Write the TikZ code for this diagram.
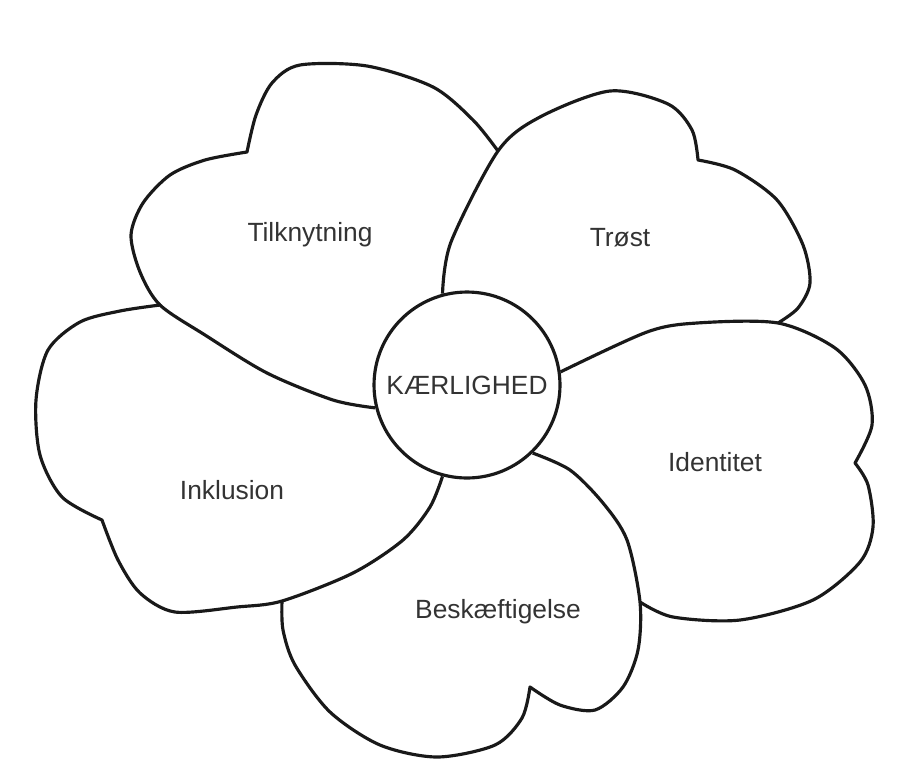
\documentclass[tikz,border=0pt]{standalone}
\usepackage{fontspec}
\setmainfont{Liberation Sans}
\begin{document}
\begin{tikzpicture}[x=0.02cm, y=-0.02cm, line width=1.8pt, line join=round,
  petal/.style={draw=black!90},
  word/.style={text=black!80, font=\fontsize{15}{18}\selectfont}]
\useasboundingbox (0,0) rectangle (905,782);
\node[draw=black!90, circle, minimum size=3.72cm, inner sep=0pt, word] at (467,385) (love){KÆRLIGHED};

\coordinate (j1) at (498,151); % Tilknytning under Trøst
\coordinate (j2) at (778,323); % Trøst under Identitet
\coordinate (j3) at (640,602); % Identitet under Beskæftigelse
\coordinate (j4) at (282,601); % Beskæftigelse under Inklusion
\coordinate (j5) at (160,305); % Inklusion under Tilknytning

\draw[petal] plot[smooth] coordinates {(love.105) (451,242) (j1) (540,117) (610,91) (668,104) (692,130) (698,160)}
  -- plot[smooth] coordinates {(698,160) (735,170) (777,200) (803,245) (810,283) (798,308) (j2)}; % Trøst
\draw[petal] plot[smooth] coordinates {(love.8) (647,332) (697,323) (j2) (835,348) (865,385) (872,425) (855,463)}
  -- plot[smooth] coordinates {(855,463) (868,485) (873,527) (860,562) (813,600) (740,620) (673,617) (j3)}; % Identitet
\draw[petal] plot[smooth] coordinates {(love.-46) (570,470) (603,503) (627,540) (j3) (638,650) (623,687) (595,710) (560,705) (530,687)}
  -- plot[smooth] coordinates {(530,687) (522,718) (495,745) (437,757) (380,745) (330,712) (295,665) (283,630) (j4)}; % Beskæftigelse
\draw[petal] plot[smooth] coordinates {(love.-105) (430,507) (403,540) (353,573) (j4) (237,607) (175,612) (140,593) (118,560) (102,520)}
  -- plot[smooth] coordinates {(102,520) (62,497) (40,455) (36,400) (48,350) (80,322) (120,311) (j5)}; % Inklusion
\draw[petal] plot[smooth] coordinates {(love.194) (333,400) (267,373) (205,335) (j5) (140,272) (131,235) (143,203) (170,175) (205,160) (247,152)}
  -- plot[smooth] coordinates {(247,152) (256,115) (272,83) (300,65) (367,66) (433,87) (473,120) (j1)}; % Tilknytning

\node[word] at (310,235) (tilk){Tilknytning};
\node[word] at (620,238) (trost){Trøst};
\node[word] at (715,462) (ident){Identitet};
\node[word] at (498,612) (besk){Beskæftigelse};
\node[word] at (232,490) (inkl){Inklusion};
\end{tikzpicture}
\end{document}
